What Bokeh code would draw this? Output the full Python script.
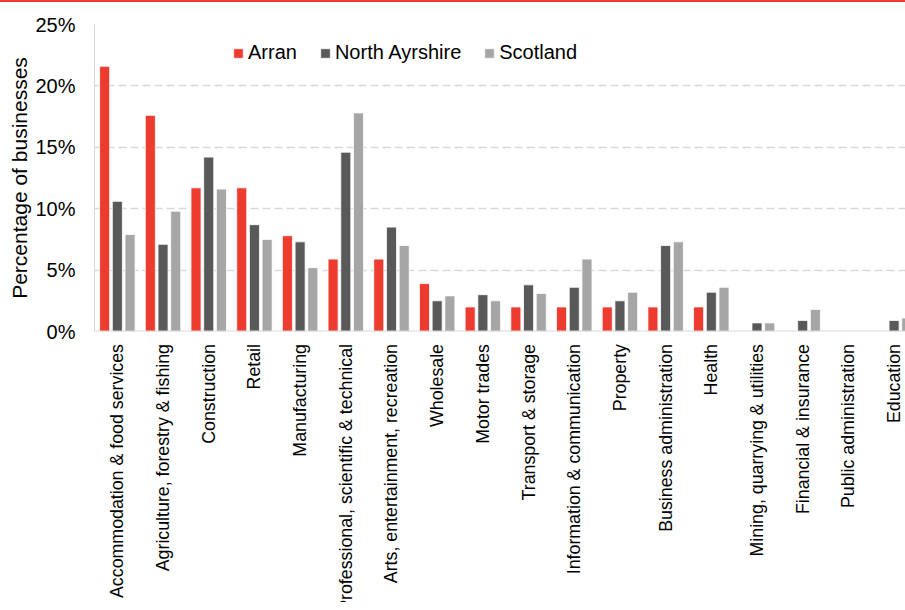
from bokeh.plotting import figure
from bokeh.models import (ColumnDataSource, Range1d, FixedTicker, PrintfTickFormatter,
                          Span, Div)
from bokeh.core.properties import value
from bokeh.transform import dodge
from bokeh.layouts import column
from bokeh.embed import file_html
from bokeh.resources import INLINE

categories = [
    "Accommodation & food services", "Agriculture, forestry & fishing", "Construction",
    "Retail", "Manufacturing", "Professional, scientific & technical",
    "Arts, entertainment, recreation", "Wholesale", "Motor trades", "Transport & storage",
    "Information & communication", "Property", "Business administration", "Health",
    "Mining, quarrying & utilities", "Financial & insurance", "Public administration",
    "Education",
]
arran = [21.6, 17.6, 11.7, 11.7, 7.8, 5.9, 5.9, 3.9, 2.0, 2.0, 2.0, 2.0, 2.0, 2.0, 0.0, 0.0, 0.0, 0.0]
north_ayrshire = [10.6, 7.1, 14.2, 8.7, 7.3, 14.6, 8.5, 2.5, 3.0, 3.8, 3.6, 2.5, 7.0, 3.2, 0.7, 0.9, 0.0, 0.9]
scotland = [7.9, 9.8, 11.6, 7.5, 5.2, 17.8, 7.0, 2.9, 2.5, 3.1, 5.9, 3.2, 7.3, 3.6, 0.7, 1.8, 0.0, 1.1]
y_ticks = [0, 5, 10, 15, 20, 25]

FONT = "Liberation Sans"
RED = "#ee3b2f"
DARK = "#595959"
LIGHT = "#a6a6a6"
GRID = "#d9d9d9"

W = 905
LEFT = 94

centers = [i + 0.5 for i in range(len(categories))]
src = ColumnDataSource(dict(x=centers, cat=categories, arran=arran,
                            na=north_ayrshire, sc=scotland))

xr = Range1d(0, 17.75)
p = figure(width=W, height=333, output_backend="svg", toolbar_location=None,
           x_range=xr, y_range=Range1d(0, 25),
           min_border_left=LEFT, min_border_right=0, min_border_top=14,
           min_border_bottom=12)

bw = 0.22
off = 0.278
p.vbar(x=dodge("x", -off, range=xr), top="arran", width=bw, source=src,
       fill_color=RED, line_color="white", line_width=0.8, legend_label="Arran")
p.vbar(x=dodge("x", 0, range=xr), top="na", width=bw, source=src,
       fill_color=DARK, line_color="white", line_width=0.8, legend_label="North Ayrshire")
p.vbar(x=dodge("x", off, range=xr), top="sc", width=bw, source=src,
       fill_color=LIGHT, line_color="white", line_width=0.8, legend_label="Scotland")

p.xaxis.visible = False
p.add_layout(Span(location=0, dimension="width", line_color=GRID, line_width=2))

# y axis
p.yaxis.ticker = FixedTicker(ticks=y_ticks)
p.yaxis.formatter = PrintfTickFormatter(format="%d%%")
p.yaxis.axis_line_color = GRID
p.yaxis.axis_line_width = 1
p.yaxis.major_tick_line_color = None
p.yaxis.minor_tick_line_color = None
p.yaxis.major_label_text_font = FONT
p.yaxis.major_label_text_font_size = "20px"
p.yaxis.major_label_text_color = "#000000"
p.yaxis.major_label_standoff = 13
p.yaxis.axis_label = "Percentage of businesses"
p.yaxis.axis_label_text_font = FONT
p.yaxis.axis_label_text_font_size = "21px"
p.yaxis.axis_label_text_font_style = "normal"
p.yaxis.axis_label_text_color = "#000000"
p.yaxis.axis_label_standoff = 1

p.xgrid.grid_line_color = None
p.ygrid.grid_line_color = GRID
p.ygrid.grid_line_dash = "8 4"
p.ygrid.grid_line_width = 1.5
p.outline_line_color = None

lg = p.legend[0]
lg.location = (138, 267)
lg.orientation = "horizontal"
lg.background_fill_alpha = 0
lg.border_line_color = None
lg.padding = 0
lg.margin = 0
lg.spacing = 22
lg.glyph_width = 12
lg.glyph_height = 12
lg.label_standoff = 4
lg.label_text_font = FONT
lg.label_text_font_size = "20px"
lg.label_text_color = "#000000"

# category labels panel (shares the x range)
LAB_H = 259
p2 = figure(width=W, height=LAB_H, output_backend="svg", toolbar_location=None,
            x_range=xr, y_range=Range1d(0, LAB_H),
            min_border_left=LEFT, min_border_right=0, min_border_top=0,
            min_border_bottom=0)
p2.axis.visible = False
p2.grid.grid_line_color = None
p2.outline_line_color = None
lab_src = ColumnDataSource(dict(x=centers, y=[LAB_H - 0.5] * len(categories), cat=categories))
p2.text(x="x", y="y", text="cat", source=lab_src, angle=1.5708,
        text_align="right", text_baseline="middle",
        text_font=value(FONT), text_font_size="17.8px", text_color="#000000")

bar = Div(text='<div style="position:fixed;top:0;left:0;width:905px;height:2px;'
               'background:#ee3b2f;z-index:10"></div>', width=0, height=0)

layout = column(bar, p, p2, spacing=0)
open("out.html", "w").write(file_html(layout, INLINE))
